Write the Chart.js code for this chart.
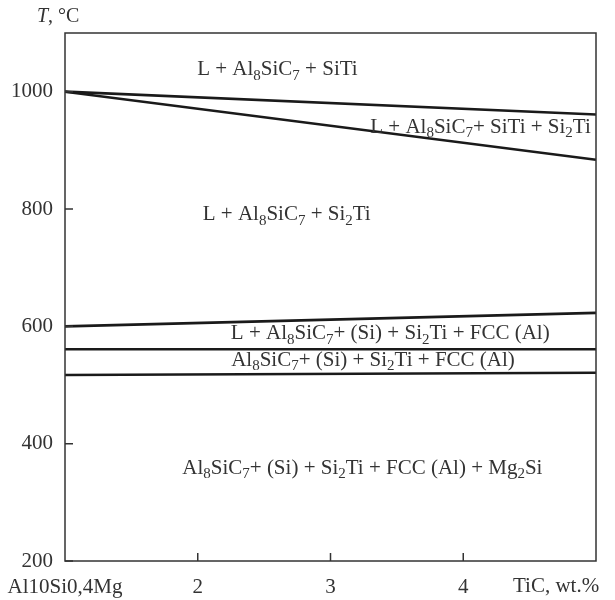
<!DOCTYPE html>
<html>
<head>
<meta charset="utf-8">
<script src="https://cdn.jsdelivr.net/npm/chart.js@4.4.1/dist/chart.umd.min.js"></script>
<style>
  html, body { margin: 0; padding: 0; background: #fff; }
  #wrap { width: 615px; height: 600px; }
</style>
</head>
<body>
<div id="wrap"><canvas id="myChart"></canvas></div>
<script>
// boundaries: TiC wt.% at both ends, temperature in °C
const tic = [1, 5];
const upperLiquidus = [1000, 961];
const lowerLiquidus = [1000, 884];
const fccLine = [600, 623];
const siLine = [561, 561];
const solidus = [517, 521];

const xTicks = [1, 2, 3, 4];
const xTickLabels = ['Al10Si0,4Mg', '2', '3', '4'];
const yTicks = [200, 400, 600, 800, 1000];

// phase fields, "_n" marks a subscript
const phaseNames = [
  'L + Al_8SiC_7 + SiTi',
  'L + Al_8SiC_7+ SiTi + Si_2Ti',
  'L + Al_8SiC_7 + Si_2Ti',
  'L + Al_8SiC_7+ (Si) + Si_2Ti + FCC (Al)',
  'Al_8SiC_7+ (Si) + Si_2Ti + FCC (Al)',
  'Al_8SiC_7+ (Si) + Si_2Ti + FCC (Al) + Mg_2Si'
];
const phaseX = [2.6, 4.13, 2.67, 3.45, 3.32, 3.24];
const phaseT = [1037, 939, 790, 587, 542, 358];

const FONT = 'Liberation Serif';
const INK = '#333';

function toPoints(ys) {
  return tic.map((x, i) => ({x: x, y: ys[i]}));
}

function drawRich(ctx, str, cx, cy, size) {
  const parts = str.split(/_(\d+)/);
  const subSize = Math.round(size * 0.72);
  let w = 0;
  parts.forEach((p, i) => {
    ctx.font = (i % 2 ? subSize : size) + 'px "' + FONT + '"';
    w += ctx.measureText(p).width;
  });
  let x = cx - w / 2;
  ctx.textAlign = 'left';
  ctx.textBaseline = 'middle';
  parts.forEach((p, i) => {
    const sub = i % 2 === 1;
    ctx.font = (sub ? subSize : size) + 'px "' + FONT + '"';
    ctx.fillText(p, x, sub ? cy + size * 0.28 : cy);
    x += ctx.measureText(p).width;
  });
}

const frame = {
  id: 'frame',
  afterDraw(chart) {
    const ctx = chart.ctx;
    const a = chart.chartArea;
    const sx = chart.scales.x, sy = chart.scales.y;
    ctx.save();
    ctx.strokeStyle = INK;
    ctx.lineWidth = 1.5;
    ctx.strokeRect(a.left, a.top, a.right - a.left, a.bottom - a.top);
    // inner ticks
    ctx.beginPath();
    xTicks.slice(1).forEach(v => {
      const px = sx.getPixelForValue(v);
      ctx.moveTo(px, a.bottom);
      ctx.lineTo(px, a.bottom - 8);
    });
    yTicks.forEach(v => {
      const py = sy.getPixelForValue(v);
      ctx.moveTo(a.left, py);
      ctx.lineTo(a.left + 8, py);
    });
    ctx.stroke();

    ctx.fillStyle = INK;
    phaseNames.forEach((name, i) => {
      drawRich(ctx, name, sx.getPixelForValue(phaseX[i]), sy.getPixelForValue(phaseT[i]), 21);
    });

    // axis titles
    ctx.textBaseline = 'alphabetic';
    ctx.textAlign = 'left';
    ctx.font = 'italic 20px "' + FONT + '"';
    ctx.fillText('T', 37, 22);
    const tw = ctx.measureText('T').width;
    ctx.font = '20px "' + FONT + '"';
    ctx.fillText(', °C', 37 + tw, 22);
    ctx.font = '21px "' + FONT + '"';
    ctx.fillText('TiC, wt.%', 513, 592);
    ctx.restore();
  }
};

const lineStyle = {borderColor: '#1a1a1a', borderWidth: 2.6, pointRadius: 0, fill: false, tension: 0};

const myCtx = document.getElementById('myChart').getContext('2d');
const myChart = new Chart(myCtx, {
  type: 'line',
  data: {
    datasets: [
      {label: 'upper liquidus', data: toPoints(upperLiquidus), ...lineStyle},
      {label: 'lower liquidus', data: toPoints(lowerLiquidus), ...lineStyle},
      {label: 'FCC (Al)', data: toPoints(fccLine), ...lineStyle},
      {label: '(Si)', data: toPoints(siLine), ...lineStyle},
      {label: 'Mg2Si', data: toPoints(solidus), ...lineStyle}
    ]
  },
  options: {
    responsive: true,
    maintainAspectRatio: false,
    animation: false,
    layout: {padding: {top: 33, right: 19, left: 0, bottom: 0}},
    plugins: {
      legend: {display: false},
      tooltip: {enabled: false}
    },
    scales: {
      x: {
        type: 'linear',
        min: 1,
        max: 5,
        afterBuildTicks: s => { s.ticks = xTicks.map(v => ({value: v})); },
        afterFit: s => { s.height = 39; s.paddingLeft = 0; s.paddingRight = 0; },
        grid: {display: false},
        border: {display: false},
        ticks: {
          autoSkip: false,
          maxRotation: 0,
          padding: 6,
          color: INK,
          font: {family: FONT, size: 21},
          callback: v => xTickLabels[xTicks.indexOf(v)]
        }
      },
      y: {
        min: 200,
        max: 1100,
        afterBuildTicks: s => { s.ticks = yTicks.map(v => ({value: v})); },
        afterFit: s => { s.width = 65; },
        grid: {display: false},
        border: {display: false},
        ticks: {
          padding: 4,
          color: INK,
          font: {family: FONT, size: 21},
          callback: v => String(v)
        }
      }
    }
  },
  plugins: [frame]
});
</script>
</body>
</html>
